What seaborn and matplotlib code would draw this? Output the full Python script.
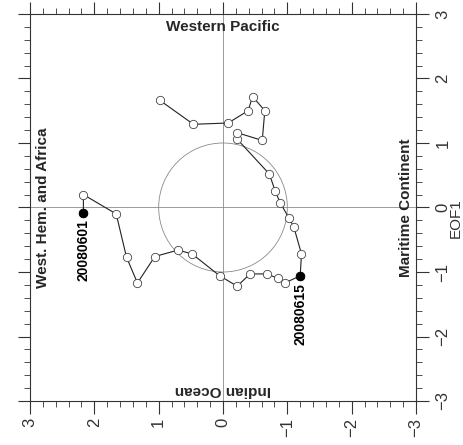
import matplotlib
matplotlib.use("Agg")
import matplotlib.pyplot as plt
from matplotlib.patches import Circle
from matplotlib.ticker import MultipleLocator, FixedLocator
import seaborn as sns
import pandas as pd

# Daily MJO index track, June 2008 (horizontal / vertical components)
days = [f"200806{d:02d}" for d in range(1, 31)]
horiz = [2.17, 2.17, 1.66, 1.50, 1.33, 1.06, 0.70, 0.48, 0.05, -0.22,
         -0.42, -0.68, -0.86, -0.96, -1.20, -1.22, -1.10, -1.03, -0.89, -0.81,
         -0.72, -0.22, -0.22, -0.61, -0.65, -0.46, -0.39, -0.08, 0.46, 0.98]
eof1 = [-0.08, 0.20, -0.10, -0.77, -1.17, -0.76, -0.66, -0.72, -1.06, -1.22,
        -1.03, -1.03, -1.10, -1.17, -1.06, -0.72, -0.30, -0.17, 0.07, 0.26,
        0.52, 1.06, 1.16, 1.04, 1.50, 1.72, 1.50, 1.31, 1.29, 1.66]
marked_days = ["20080601", "20080615"]
tick_values = [3, 2, 1, 0, -1, -2, -3]

df = pd.DataFrame({"day": days, "h": horiz, "v": eof1})
marked = df[df["day"].isin(marked_days)]

sns.set_style("white")
plt.rcParams["font.family"] = ["Liberation Sans", "DejaVu Sans"]

W, H = 464, 445
fig = plt.figure(figsize=(W / 100, H / 100), dpi=100)
ax = fig.add_axes([30 / W, 1 - 401 / H, 386 / W, 387 / H])

ax.set_xlim(3, -3)
ax.set_ylim(-3, 3)

# reference lines and unit circle
ax.axhline(0, color="#8a8a8a", lw=0.6, zorder=1)
ax.axvline(0, color="#8a8a8a", lw=0.6, zorder=1)
ax.add_patch(Circle((0, 0), 1, fill=False, ec="#8a8a8a", lw=0.6, zorder=1))

# daily track
sns.lineplot(data=df, x="h", y="v", sort=False, estimator=None, ax=ax,
             color="#222222", lw=0.8, marker="o", markersize=6.0,
             markerfacecolor="white", markeredgecolor="#444444",
             markeredgewidth=0.6, zorder=3)
sns.scatterplot(data=marked, x="h", y="v", ax=ax, color="black", s=40,
                edgecolor="black", zorder=4)
for _, r in marked.iterrows():
    ax.annotate(r["day"], (r["h"], r["v"]), xytext=(0, -5),
                textcoords="offset points", rotation=90, ha="center",
                va="top", fontsize=10, fontweight="bold", color="black")

# region labels
ax.text(0, 2.8, "Western Pacific", ha="center", va="center", fontsize=11,
        fontweight="bold")
ax.text(0, -2.83, "Indian Ocean", ha="center", va="center", fontsize=11,
        fontweight="bold", rotation=180)
ax.text(2.8, 0, "West. Hem. and Africa", ha="center", va="center",
        fontsize=11, fontweight="bold", rotation=90)
ax.text(-2.85, 0, "Maritime Continent", ha="center", va="center",
        fontsize=11, fontweight="bold", rotation=90)

ax.set_xlabel("")
ax.set_ylabel("")

# ticks
ax.xaxis.set_major_locator(FixedLocator(tick_values))
ax.yaxis.set_major_locator(FixedLocator(tick_values))
ax.xaxis.set_minor_locator(MultipleLocator(0.2))
ax.yaxis.set_minor_locator(MultipleLocator(0.2))
ax.tick_params(which="both", direction="out", top=True, bottom=True,
               left=True, right=True, labelleft=False, labelright=True,
               labeltop=False, labelbottom=True, color="#333333")
ax.tick_params(which="major", length=9, width=0.8, labelsize=12,
               labelcolor="#333333")
ax.tick_params(which="minor", length=4, width=0.6)
ax.tick_params(axis="x", which="major", pad=3)
ax.tick_params(axis="y", which="major", pad=5)
for lab in ax.get_xticklabels():
    lab.set_rotation(90)
for lab in ax.get_yticklabels():
    lab.set_rotation(90)
    lab.set_va("center")

for sp in ax.spines.values():
    sp.set_color("#333333")
    sp.set_linewidth(0.8)

fig.text(463 / W, 1 - 218 / H, "EOF1", rotation=90, ha="right",
         va="center", fontsize=11, color="#333333")

fig.savefig("out.png", dpi=100, facecolor="white")
